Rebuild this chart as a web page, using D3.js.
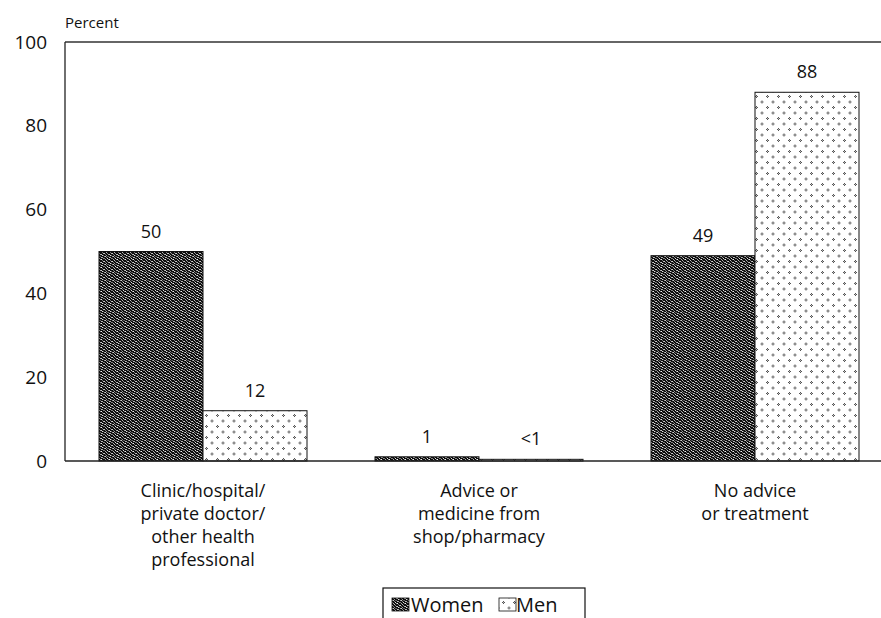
<!DOCTYPE html>
<html><head><meta charset="utf-8">
<script src="https://cdn.jsdelivr.net/npm/d3@7"></script>
<style>body{margin:0;background:#fff}svg{display:block}text{font-family:"Open Sans",sans-serif;fill:#111}</style>
</head><body><svg id="c" width="881" height="618"></svg>
<script>
const categories = [["Clinic/hospital/","private doctor/","other health","professional"],["Advice or","medicine from","shop/pharmacy"],["No advice","or treatment"]];
const seriesNames = ["Women","Men"];
const women = [50, 1, 49];
const men = [12, 0.4, 88];
const valueLabels = [["50","12"],["1","<1"],["49","88"]];
const yTicks = [0,20,40,60,80,100];

(function(){
const svg = d3.select("#c");
const defs = svg.append("defs");
const FONT = "'Open Sans',sans-serif";
// women pattern
const pw = defs.append("pattern").attr("id","pw").attr("patternUnits","userSpaceOnUse").attr("width",8).attr("height",8);
pw.append("rect").attr("width",8).attr("height",8).attr("fill","#0d0d0d");
[[0,0,"#999"],[1,0,"#ccc"],[4,0,"#666"],[2,1,"#888"],[5,1,"#bbb"],[6,1,"#aaa"],[0,2,"#777"],[3,2,"#ddd"],[7,2,"#888"],
 [1,3,"#aaa"],[4,3,"#999"],[5,3,"#eee"],[2,4,"#bbb"],[6,4,"#777"],[0,5,"#ccc"],[3,5,"#888"],[7,5,"#bbb"],[4,6,"#aaa"],
 [1,6,"#777"],[5,6,"#ccc"],[2,7,"#999"],[6,7,"#ddd"],[3,0,"#555"],[7,7,"#666"]].forEach(([x,y,c])=>pw.append("rect").attr("x",x).attr("y",y).attr("width",1).attr("height",1).attr("fill",c));
// men pattern
const pm = defs.append("pattern").attr("id","pm").attr("patternUnits","userSpaceOnUse").attr("width",11).attr("height",11);
pm.append("rect").attr("width",11).attr("height",11).attr("fill","#fff");
[[3,3],[8.5,8.5]].forEach(([cx,cy])=>{
  pm.append("rect").attr("x",cx-1.5).attr("y",cy-0.5).attr("width",3).attr("height",1).attr("fill","#555");
  pm.append("rect").attr("x",cx-0.5).attr("y",cy-1.5).attr("width",1).attr("height",3).attr("fill","#555");
  pm.append("rect").attr("x",cx-0.5).attr("y",cy-0.5).attr("width",1).attr("height",1).attr("fill","#bbb");
});

const mLeft = 65, mRight = 881, mTop = 42, mBottom = 461, band = 276;
const x = d3.scaleBand().domain(d3.range(categories.length)).range([mLeft, mLeft + band*categories.length]);
const y = d3.scaleLinear().domain([0,100]).range([mBottom, mTop]);
const barW = 104;
const fills = ["url(#pw)","url(#pm)"];
const data = [women, men];

const g = svg.append("g");
categories.forEach((c,i)=>{
  const cx = x(i) + x.bandwidth()/2;
  data.forEach((s,j)=>{
    const bx = cx - barW + j*barW;
    g.append("rect").attr("x",bx).attr("y",y(s[i])).attr("width",barW).attr("height",mBottom - y(s[i]))
      .attr("fill",fills[j]).attr("stroke","#111").attr("stroke-width",1);
    g.append("text").attr("x",bx+barW/2).attr("y",y(Math.max(s[i],0))-14).attr("text-anchor","middle")
      .attr("font-size",18).text(valueLabels[i][j]);
  });
  const t = g.append("text").attr("text-anchor","middle").attr("font-size",18);
  c.forEach((line,k)=>t.append("tspan").attr("x",cx).attr("y",497+k*23).text(line));
});

svg.append("line").attr("x1",mLeft).attr("x2",mRight).attr("y1",mTop).attr("y2",mTop).attr("stroke","#333").attr("stroke-width",1.3);
svg.append("line").attr("x1",mLeft).attr("x2",mRight).attr("y1",mBottom).attr("y2",mBottom).attr("stroke","#222").attr("stroke-width",1.5);
svg.append("line").attr("x1",mLeft).attr("x2",mLeft).attr("y1",mTop).attr("y2",mBottom).attr("stroke","#222").attr("stroke-width",1.3);

const ya = svg.append("g").attr("transform",`translate(${mLeft},0)`)
  .call(d3.axisLeft(y).tickValues(yTicks).tickSize(0).tickPadding(18));
ya.select(".domain").remove();
ya.selectAll("text").attr("font-size",19).attr("font-family",FONT).attr("fill","#111");

svg.append("text").attr("x",mLeft).attr("y",28).attr("font-size",15).text("Percent");

const lg = svg.append("g");
lg.append("rect").attr("x",383).attr("y",588).attr("width",202).attr("height",40).attr("fill","#fff").attr("stroke","#111").attr("stroke-width",1.2);
const lx = [392, 499], tx = [411, 516];
seriesNames.forEach((n,j)=>{
  lg.append("rect").attr("x",lx[j]).attr("y",598).attr("width",17).attr("height",13).attr("fill",fills[j]).attr("stroke","#111").attr("stroke-width",0.8);
  lg.append("text").attr("x",tx[j]).attr("y",612).attr("font-size",20).text(n);
});
})();
</script></body></html>
